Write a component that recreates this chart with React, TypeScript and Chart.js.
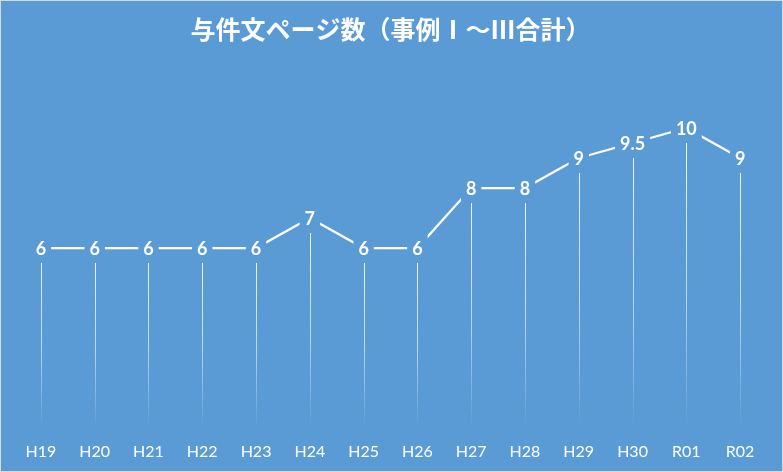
import { useEffect, useRef } from "react";
import { Chart, registerables, ChartConfiguration, Plugin } from "chart.js";

Chart.register(...registerables);

const YEARS = ["H19", "H20", "H21", "H22", "H23", "H24", "H25", "H26", "H27", "H28", "H29", "H30", "R01", "R02"];
const PAGES = [6, 6, 6, 6, 6, 7, 6, 6, 8, 8, 9, 9.5, 10, 9];
const TITLE = "与件文ページ数（事例Ⅰ～Ⅲ合計）";

const BG = "#5B9BD5";

// drop lines fading to the bottom, and value labels on a bg box so the line breaks around them
const labelsPlugin: Plugin = {
    id: "pointLabels",
    beforeDatasetsDraw(chart) {
        const ctx = chart.ctx;
        const bottom = chart.chartArea.bottom;
        const meta = chart.getDatasetMeta(0);
        ctx.save();
        meta.data.forEach((pt: any) => {
            const x = Math.round(pt.x) + 0.5;
            const grad = ctx.createLinearGradient(0, pt.y, 0, bottom);
            grad.addColorStop(0, "rgba(255,255,255,0.95)");
            grad.addColorStop(0.55, "rgba(255,255,255,0.6)");
            grad.addColorStop(1, "rgba(255,255,255,0)");
            ctx.strokeStyle = grad;
            ctx.lineWidth = 1;
            ctx.beginPath();
            ctx.moveTo(x, pt.y);
            ctx.lineTo(x, bottom);
            ctx.stroke();
        });
        ctx.restore();
    },
    afterDatasetsDraw(chart) {
        const ctx = chart.ctx;
        const meta = chart.getDatasetMeta(0);
        const values = chart.data.datasets[0].data as number[];
        ctx.save();
        ctx.font = "bold 18px Lato";
        ctx.textAlign = "center";
        ctx.textBaseline = "middle";
        meta.data.forEach((pt: any, i: number) => {
            const text = String(values[i]);
            const w = ctx.measureText(text).width;
            ctx.fillStyle = BG;
            ctx.fillRect(pt.x - w / 2 - 5, pt.y - 14, w + 10, 29);
            ctx.fillStyle = "#FFFFFF";
            ctx.fillText(text, pt.x, pt.y + 1);
        });
        ctx.restore();
    }
};

export default function App() {
    const canvasRef = useRef<HTMLCanvasElement>(null);
    const chartRef = useRef<Chart | null>(null);

    useEffect(() => {
        if (!canvasRef.current) return;
        if (chartRef.current) chartRef.current.destroy();

        const config: ChartConfiguration = {
            type: "line",
            data: {
                labels: YEARS,
                datasets: [
                    {
                        label: "ページ数",
                        data: PAGES,
                        borderColor: "#FFFFFF",
                        borderWidth: 2.25,
                        pointRadius: 0,
                        tension: 0
                    }
                ]
            },
            options: {
                animation: false,
                responsive: false,
                layout: { padding: { left: 13, right: 15, top: 0, bottom: 10 } },
                plugins: {
                    legend: { display: false },
                    tooltip: { enabled: false },
                    title: {
                        display: true,
                        text: TITLE,
                        color: "#FFFFFF",
                        font: { family: "'Noto Sans CJK JP'", size: 25, weight: "bold" },
                        padding: { top: 13, bottom: 24 }
                    }
                },
                scales: {
                    x: {
                        offset: true,
                        grid: { display: false, drawTicks: false },
                        border: { display: false },
                        ticks: {
                            color: "#FFFFFF",
                            padding: 14,
                            font: { family: "Lato", size: 16 }
                        },
                        afterFit(scale) {
                            scale.height = 33;
                        }
                    },
                    y: {
                        display: false,
                        min: 0,
                        max: 12
                    }
                }
            },
            plugins: [labelsPlugin]
        };

        chartRef.current = new Chart(canvasRef.current, config);

        return () => {
            if (chartRef.current) {
                chartRef.current.destroy();
                chartRef.current = null;
            }
        };
    }, []);

    return (
        <div
            style={{
                position: "absolute",
                left: 0,
                top: 0,
                width: 783,
                height: 472,
                boxSizing: "border-box",
                border: "1px solid #D9D9D9",
                background: BG
            }}
        >
            <canvas ref={canvasRef} width={781} height={470} style={{ display: "block" }} />
        </div>
    );
}
